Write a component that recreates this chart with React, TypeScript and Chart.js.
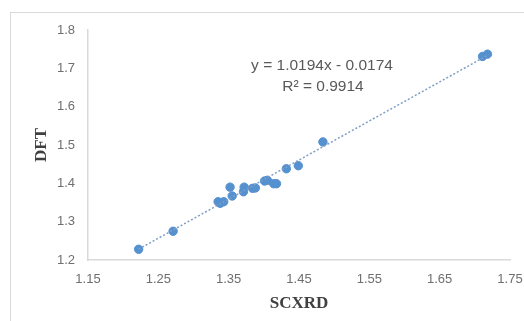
import React, { useEffect, useRef } from "react";
import { Chart, registerables } from "chart.js";

Chart.register(...registerables);

const scxrd = [1.222, 1.271, 1.335, 1.338, 1.343, 1.352, 1.355, 1.371, 1.372, 1.384, 1.388, 1.401, 1.405, 1.414, 1.418, 1.432, 1.449, 1.484, 1.711, 1.718];
const dft = [1.228, 1.275, 1.352, 1.348, 1.352, 1.390, 1.367, 1.378, 1.390, 1.387, 1.388, 1.406, 1.408, 1.399, 1.399, 1.438, 1.446, 1.508, 1.731, 1.737];

const slope = 1.0194;
const intercept = -0.0174;
const equationText = "y = 1.0194x - 0.0174";
const r2Text = "R² = 0.9914";

const xTicks = [1.15, 1.25, 1.35, 1.45, 1.55, 1.65, 1.75];
const yTicks = [1.2, 1.3, 1.4, 1.5, 1.6, 1.7, 1.8];

const xTitle = "SCXRD";
const yTitle = "DFT";

export default function App() {
  const ref = useRef<HTMLCanvasElement>(null);

  useEffect(() => {
    document.body.style.margin = "0";
    const canvas = ref.current;
    if (!canvas) return;

    const points = scxrd.map((x, i) => ({ x, y: dft[i] }));
    const xMin = Math.min(...scxrd);
    const xMax = Math.max(...scxrd);
    const trend = [
      { x: xMin, y: slope * xMin + intercept },
      { x: xMax, y: slope * xMax + intercept },
    ];

    const equationPlugin = {
      id: "equation",
      afterDraw(chart: any) {
        const ctx = chart.ctx;
        ctx.save();
        ctx.fillStyle = "#595959";
        ctx.font = "15.5px 'Liberation Sans', Arial, sans-serif";
        ctx.textAlign = "center";
        ctx.textBaseline = "middle";
        ctx.fillText(equationText, 322, 66);
        ctx.fillText(r2Text, 323, 87);
        ctx.restore();
      },
    };

    const tickFont = { family: "'Liberation Sans', Arial, sans-serif", size: 13 };
    const titleFont = { family: "'Liberation Serif', 'Times New Roman', serif", size: 17, weight: "bold" as const, lineHeight: 1.2 };

    const chart = new Chart(canvas, {
      type: "scatter",
      data: {
        datasets: [
          {
            type: "line",
            data: trend,
            borderColor: "#7f9ec6",
            borderWidth: 1.5,
            borderDash: [2, 2],
            pointRadius: 0,
            fill: false,
            order: 0,
          } as any,
          {
            data: points,
            backgroundColor: "#5590cf",
            borderColor: "#5590cf",
            pointRadius: 4.2,
            pointHoverRadius: 4.2,
            order: 1,
          },
        ],
      },
      options: {
        responsive: false,
        animation: false,
        devicePixelRatio: 1,
        layout: { padding: { top: 30, right: 14, left: 0, bottom: 0 } },
        plugins: {
          legend: { display: false },
          tooltip: { enabled: false },
        },
        scales: {
          x: {
            type: "linear",
            min: 1.15,
            max: 1.75,
            grid: { display: false, drawTicks: false },
            border: { display: true, color: "#d9d9d9", width: 1.5 },
            ticks: {
              color: "#6f6f6f",
              font: tickFont,
              padding: 12,
              callback: (v: any) => Number(v).toFixed(2),
            },
            afterBuildTicks: (scale: any) => {
              scale.ticks = xTicks.map((value) => ({ value }));
            },
            afterFit: (scale: any) => {
              scale.height = 61;
              scale.paddingLeft = 0;
              scale.paddingRight = 0;
            },
            title: {
              display: true,
              text: xTitle,
              color: "#404040",
              font: titleFont,
              padding: { top: 0, bottom: 7.5 },
            },
          },
          y: {
            type: "linear",
            min: 1.2,
            max: 1.8,
            grid: { display: false, drawTicks: false },
            border: { display: true, color: "#d9d9d9", width: 1.5 },
            ticks: {
              color: "#6f6f6f",
              font: tickFont,
              padding: 13,
              callback: (v: any) => Number(v).toFixed(1),
            },
            afterBuildTicks: (scale: any) => {
              scale.ticks = yTicks.map((value) => ({ value }));
            },
            afterFit: (scale: any) => {
              scale.width = 88;
              scale.paddingTop = 0;
              scale.paddingBottom = 0;
            },
            title: {
              display: true,
              text: yTitle,
              color: "#404040",
              font: titleFont,
              padding: { top: 31.5, bottom: 0 },
            },
          },
        },
      },
      plugins: [equationPlugin],
    });

    return () => chart.destroy();
  }, []);

  return (
    <div style={{ position: "relative", width: 524, height: 321, overflow: "hidden", background: "#fff" }}>
      <div
        style={{
          position: "absolute",
          left: 10,
          top: 12,
          width: 600,
          height: 400,
          border: "1px solid #d9d9d9",
          boxSizing: "border-box",
        }}
      />
      <canvas ref={ref} width={524} height={321} style={{ position: "absolute", left: 0, top: 0, display: "block" }} />
    </div>
  );
}
